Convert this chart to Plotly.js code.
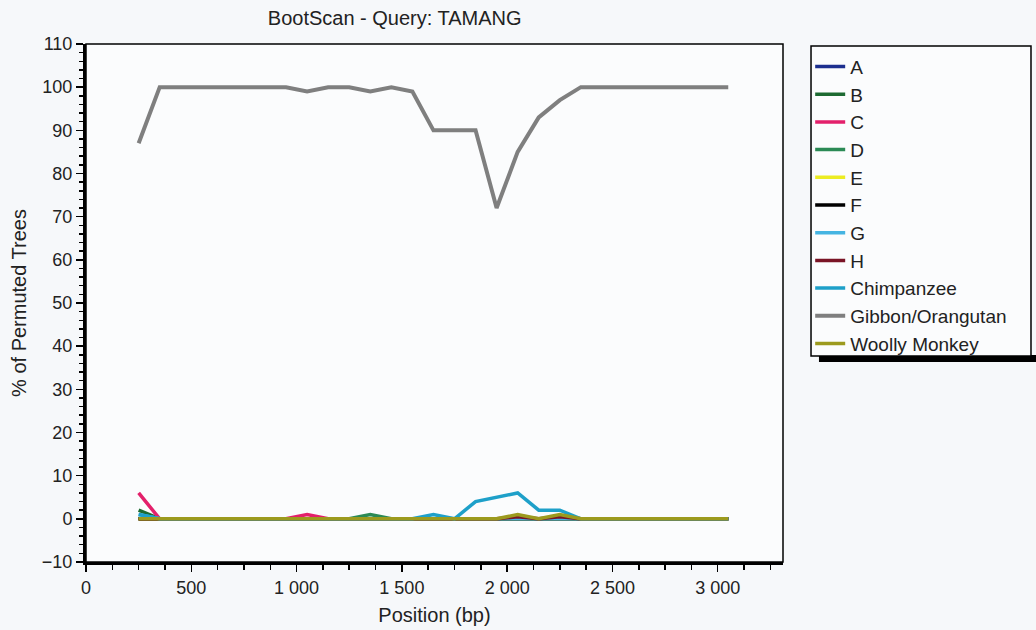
<!DOCTYPE html>
<html>
<head>
<meta charset="utf-8">
<script src="https://cdn.plot.ly/plotly-3.0.1.min.js"></script>
<style>
html,body{margin:0;padding:0;background:#f6f8fa;}
#chart{width:1036px;height:630px;}
</style>
</head>
<body>
<div id="chart"></div>
<script>
const positions = [250,350,450,550,650,750,850,950,1050,1150,1250,1350,1450,1550,1650,1750,1850,1950,2050,2150,2250,2350,2450,2550,2650,2750,2850,2950,3050];
const seriesNames = ["A","B","C","D","E","F","G","H","Chimpanzee","Gibbon/Orangutan","Woolly Monkey"];
const valA = [0,0,0,0,0,0,0,0,0,0,0,0,0,0,0,0,0,0,0,0,0,0,0,0,0,0,0,0,0];
const valB = [2,0,0,0,0,0,0,0,0,0,0,0,0,0,0,0,0,0,0,0,0,0,0,0,0,0,0,0,0];
const valC = [6,0,0,0,0,0,0,0,1,0,0,0,0,0,0,0,0,0,0,0,0,0,0,0,0,0,0,0,0];
const valD = [0,0,0,0,0,0,0,0,0,0,0,1,0,0,0,0,0,0,0,0,0,0,0,0,0,0,0,0,0];
const valE = [0,0,0,0,0,0,0,0,0,0,0,0,0,0,0,0,0,0,0,0,0,0,0,0,0,0,0,0,0];
const valF = [0,0,0,0,0,0,0,0,0,0,0,0,0,0,0,0,0,0,0,0,0,0,0,0,0,0,0,0,0];
const valG = [1,0,0,0,0,0,0,0,0,0,0,0,0,0,0,0,0,0,0,0,0,0,0,0,0,0,0,0,0];
const valH = [0,0,0,0,0,0,0,0,0,0,0,0,0,0,0,0,0,0,0.5,0,0.5,0,0,0,0,0,0,0,0];
const valChimp = [1,0,0,0,0,0,0,0,0,0,0,0,0,0,1,0,4,5,6,2,2,0,0,0,0,0,0,0,0];
const valGibbon = [87,100,100,100,100,100,100,100,99,100,100,99,100,99,90,90,90,72,85,93,97,100,100,100,100,100,100,100,100];
const valWoolly = [0,0,0,0,0,0,0,0,0,0,0,0,0,0,0,0,0,0,1,0,1,0,0,0,0,0,0,0,0];

const allValues = [valA,valB,valC,valD,valE,valF,valG,valH,valChimp,valGibbon,valWoolly];
const colors = ["#1c2f8f","#1d6a32","#e3206b","#2b8a55","#ecec22","#000000","#45b4e2","#7a1426","#1ea0c9","#7f7f7f","#9c9a1e"];
const widths = [3.5,3.5,3.5,3.5,3.5,3.5,3.5,3.5,3.5,4,3.5];

const traces = seriesNames.map((n,i)=>({
  x: positions, y: allValues[i], name: n, type: 'scatter', mode: 'lines',
  line: {color: colors[i], width: widths[i]}
}));

const layout = {
  width: 1036, height: 630,
  paper_bgcolor: '#f6f8fa', plot_bgcolor: '#fbfcfd',
  separators: '. ',
  margin: {l: 86, r: 253, t: 44, b: 68},
  font: {family: 'Arial, "Liberation Sans", sans-serif', size: 18, color: '#222'},
  title: {text: 'BootScan - Query: TAMANG', x: 0.381, xref: 'container', xanchor: 'center', y: 0.972, yref: 'container', yanchor: 'middle', font: {size: 20, color: '#222'}},
  xaxis: {
    range: [0, 3310], tickvals: [0,500,1000,1500,2000,2500,3000], tickformat: ',d',
    showgrid: false, zeroline: false, showline: true, linecolor: '#000', linewidth: 3,
    ticks: 'outside', ticklen: 7, tickwidth: 1.5, tickcolor: '#000',
    minor: {dtick: 125, ticks: 'outside', ticklen: 5, tickwidth: 1.5, tickcolor: '#000', showgrid: false},
    title: {text: 'Position (bp)', standoff: 12, font: {size: 20}}
  },
  yaxis: {
    range: [-10, 110], dtick: 10, showgrid: false, zeroline: false,
    showline: true, linecolor: '#000', linewidth: 3,
    ticks: 'outside', ticklen: 7, tickwidth: 1.5, tickcolor: '#000',
    minor: {dtick: 2, ticks: 'outside', ticklen: 4, tickwidth: 1.5, tickcolor: '#000', showgrid: false},
    title: {text: '% of Permuted Trees', standoff: 10, font: {size: 20}}
  },
  legend: {
    x: 1.039, y: 0.993, xanchor: 'left', yanchor: 'top',
    bgcolor: 'rgba(0,0,0,0)', borderwidth: 0,
    font: {size: 19, color: '#222'}, tracegroupgap: 0, itemwidth: 30
  },
  shapes: [
    {type: 'rect', xref: 'paper', yref: 'paper', x0: 0, x1: 1, y0: 0, y1: 1, line: {color: '#000', width: 1.5}, layer: 'above'},
    {type: 'rect', xref: 'paper', yref: 'paper', x0: 1.0516, x1: 1.363, y0: 0.3861, y1: 0.3996, fillcolor: '#000', line: {width: 0}, layer: 'below'},
    {type: 'rect', xref: 'paper', yref: 'paper', x0: 1.0402, x1: 1.3558, y0: 0.3977, y1: 0.9961, fillcolor: '#fbfcfd', line: {color: '#000', width: 1.5}, layer: 'below'}
  ]
};

Plotly.newPlot('chart', traces, layout, {displayModeBar: false, staticPlot: true});
</script>
</body>
</html>
